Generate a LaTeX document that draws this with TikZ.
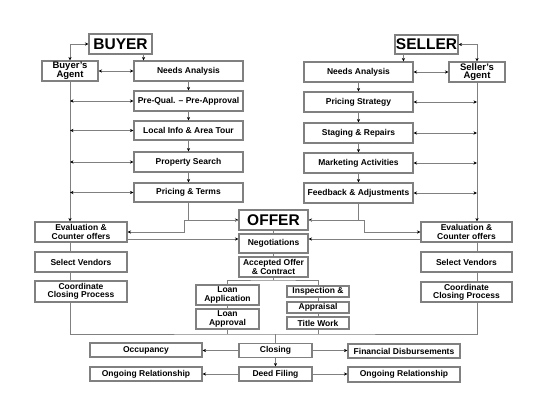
\documentclass[tikz,border=0pt]{standalone}
\usepackage{fontspec}
\setmainfont{Liberation Sans}
\usetikzlibrary{arrows.meta}

\begin{document}
\begin{tikzpicture}[x=1pt, y=-1pt,
    box/.style={draw=gray, line width=1.1pt, fill=white, inner sep=0pt, align=center,
        font=\fontsize{8.5}{8.2}\selectfont\bfseries, minimum width=109pt, minimum height=20pt},
    agentbox/.style={box, font=\fontsize{9.5}{8.6}\selectfont\bfseries, minimum width=56pt},
    titlebox/.style={box, font=\fontsize{15.5}{15.5}\selectfont\bfseries, minimum width=63pt},
    link/.style={draw=gray, line width=0.8pt},
    arr/.style={link, -{Stealth[length=3.5pt, width=3.2pt, black]}},
    darr/.style={link, {Stealth[length=3.5pt, width=3.2pt, black]}-{Stealth[length=3.5pt, width=3.2pt, black]}}]
    \fill[white] (0,0) rectangle (550,400);
    \useasboundingbox (0,0) rectangle (550,400);
    % Buyer side
    \node[titlebox] (buyer) at (120.5,44) {BUYER};
    \node[agentbox] (bagent) at (70,71) {Buyer's\\Agent};
    \node[box] (bneeds) at (188.5,71) {Needs Analysis};
    \node[box] (bprequal) at (188.5,101) {Pre-Qual. -- Pre-Approval};
    \node[box, minimum height=19pt] (blocal) at (188.5,130.5) {Local Info \& Area Tour};
    \node[box] (bsearch) at (188.5,162) {Property Search};
    \node[box, minimum height=19pt] (bpricing) at (188.5,192.5) {Pricing \& Terms};
    % Seller side
    \node[titlebox, minimum height=19pt] (seller) at (426.5,44.5) {SELLER};
    \node[agentbox] (sagent) at (477,72) {Seller's\\Agent};
    \node[box] (sneeds) at (358.5,72) {Needs Analysis};
    \node[box] (sstrategy) at (358.5,102) {Pricing Strategy};
    \node[box] (sstaging) at (358.5,133) {Staging \& Repairs};
    \node[box] (smarketing) at (358.5,163) {Marketing Activities};
    \node[box] (sfeedback) at (358.5,193) {Feedback \& Adjustments};
    % Offer column
    \node[titlebox, minimum width=69pt] (offer) at (273.5,220) {OFFER};
    \node[box, minimum width=69pt, minimum height=19pt] (negot) at (273.5,243.5) {Negotiations};
    \node[box, minimum width=69pt] (accepted) at (273.5,267) {Accepted Offer\\\& Contract};
    \node[box, minimum width=92pt] (leval) at (81,232) {Evaluation \&\\Counter offers};
    \node[box, minimum width=92pt] (lvendors) at (81,262) {Select Vendors};
    \node[box, minimum width=92pt, minimum height=21pt] (lcoord) at (81,291.5) {Coordinate\\Closing Process};
    \node[box, minimum width=91pt] (reval) at (466.5,232) {Evaluation \&\\Counter offers};
    \node[box, minimum width=91pt] (rvendors) at (466.5,262) {Select Vendors};
    \node[box, minimum width=91pt] (rcoord) at (466.5,292) {Coordinate\\Closing Process};
    \node[box, minimum width=63pt] (loanapp) at (227.5,295) {Loan\\Application};
    \node[box, minimum width=63pt] (loanappr) at (227.5,319) {Loan\\Approval};
    \node[box, minimum width=62pt, minimum height=11pt] (inspect) at (318,291.5) {Inspection \&};
    \node[box, minimum width=62pt, minimum height=11pt] (appraisal) at (318,307.5) {Appraisal};
    \node[box, minimum width=62pt, minimum height=12pt] (titlework) at (318,323) {Title Work};
    % Closing rows
    \node[box, minimum width=73pt, minimum height=14pt] (closing) at (275.5,350.5) {Closing};
    \node[box, minimum width=73pt, minimum height=14pt] (deed) at (275.5,374) {Deed Filing};
    \node[box, minimum width=112pt, minimum height=14pt] (occupancy) at (146,350) {Occupancy};
    \node[box, minimum width=112pt, minimum height=14pt] (lrelation) at (146,374) {Ongoing Relationship};
    \node[box, minimum width=112pt, minimum height=14pt] (findisb) at (404,351) {Financial Disbursements};
    \node[box, minimum width=112pt, minimum height=15pt] (rrelation) at (404,374.5) {Ongoing Relationship};
    \coordinate (split) at (273.5,280);
    \coordinate (bus) at (275.5,334);
    % Buyer connectors
    \draw[darr] (bagent.north) |- (buyer.west);
    \draw[arr] ([xshift=-9pt]buyer.south east) -- ([xshift=-9pt]buyer.south east |- bneeds.north);
    \draw[darr] (bagent.east) -- (bneeds.west);
    \draw[arr] (bneeds) -- (bprequal);
    \draw[arr] (bprequal) -- (blocal);
    \draw[arr] (blocal) -- (bsearch);
    \draw[arr] (bsearch) -- (bpricing);
    \draw[arr] (bagent.south) -- (bagent.south |- leval.north);
    \foreach \n in {bprequal,blocal,bsearch,bpricing}
        \draw[darr] (bagent.south |- \n.west) -- (\n.west);
    % Seller connectors
    \draw[darr] (seller.east) -| (sagent.north);
    \draw[arr] ([xshift=9pt]seller.south west) -- ([xshift=9pt]seller.south west |- sneeds.north);
    \draw[darr] (sneeds.east) -- (sagent.west);
    \draw[arr] (sneeds) -- (sstrategy);
    \draw[arr] (sstrategy) -- (sstaging);
    \draw[arr] (sstaging) -- (smarketing);
    \draw[arr] (smarketing) -- (sfeedback);
    \draw[arr] (sagent.south) -- (sagent.south |- reval.north);
    \foreach \n in {sstrategy,sstaging,smarketing,sfeedback}
        \draw[darr] (sagent.south |- \n.east) -- (\n.east);
    % Offer and counter offers
    \draw[arr] (bpricing.south) |- (offer.west);
    \draw[arr] (sfeedback.south) |- (offer.east);
    \draw[arr] (offer.west) -- ++(-54,0) |- (leval.east);
    \draw[arr] (offer.east) -- ++(56,0) |- (reval.west);
    \draw[arr] ([yshift=-7pt]leval.east) -- ([yshift=-7pt]leval.east -| negot.west);
    \draw[arr] ([yshift=-7pt]reval.west) -- ([yshift=-7pt]reval.west -| negot.east);
    \draw[link] (offer) -- (negot);
    \draw[link] (negot) -- (accepted);
    \draw[link] (accepted.south) -- (split);
    \draw[link] (loanapp.north) |- (split) -| (inspect.north);
    \draw[link] (loanapp) -- (loanappr);
    \draw[link] (inspect) -- (appraisal);
    \draw[link] (appraisal) -- (titlework);
    \draw[link] (leval.south -| bagent.south) -- (lvendors.north -| bagent.south);
    \draw[link] (lvendors.south -| bagent.south) -- (lcoord.north -| bagent.south);
    \draw[link] (reval.south -| sagent.south) -- (rvendors.north -| sagent.south);
    \draw[link] (rvendors.south -| sagent.south) -- (rcoord.north -| sagent.south);
    % Closing
    \draw[link] (lcoord.south -| bagent.south) |- (bus) -| (rcoord.south -| sagent.south);
    \draw[link] (loanappr.south) -- (loanappr.south |- bus);
    \draw[link] (titlework.south) -- (titlework.south |- bus);
    \draw[link] (bus) -- (closing.north);
    \draw[arr] (closing) -- (deed);
    \draw[arr] (closing) -- (closing -| occupancy.east);
    \draw[arr] (closing) -- (closing -| findisb.west);
    \draw[arr] (deed) -- (lrelation);
    \draw[arr] (deed) -- (deed -| rrelation.west);
\end{tikzpicture}
\end{document}
